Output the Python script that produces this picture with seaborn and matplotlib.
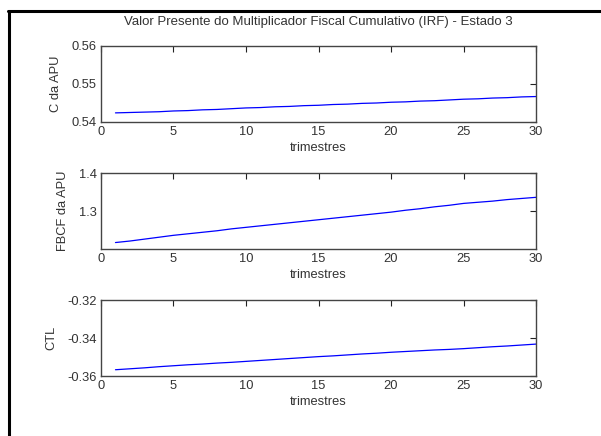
import matplotlib
matplotlib.use("Agg")
import matplotlib.pyplot as plt
import seaborn as sns
import pandas as pd
from matplotlib.lines import Line2D

# data
trimestres = list(range(1, 31))

c_apu = [0.5424, 0.5425, 0.5426, 0.5427, 0.5429, 0.5430, 0.5432, 0.5433, 0.5435, 0.5437,
         0.5438, 0.5440, 0.5441, 0.5443, 0.5444, 0.5446, 0.5447, 0.5449, 0.5450, 0.5452,
         0.5453, 0.5455, 0.5456, 0.5458, 0.5460, 0.5461, 0.5463, 0.5464, 0.5466, 0.5467]

fbcf_apu = [1.217, 1.221, 1.226, 1.231, 1.236, 1.240, 1.244, 1.248, 1.253, 1.257,
            1.261, 1.265, 1.269, 1.273, 1.277, 1.281, 1.285, 1.289, 1.293, 1.297,
            1.302, 1.306, 1.311, 1.315, 1.320, 1.323, 1.326, 1.330, 1.333, 1.336]

ctl = [-0.3567, -0.3562, -0.3557, -0.3551, -0.3546, -0.3541, -0.3537, -0.3532, -0.3528, -0.3523,
       -0.3518, -0.3513, -0.3508, -0.3503, -0.3498, -0.3494, -0.3489, -0.3484, -0.3480, -0.3475,
       -0.3471, -0.3467, -0.3463, -0.3460, -0.3456, -0.3451, -0.3446, -0.3442, -0.3437, -0.3432]

ylabels = ["C da APU", "FBCF da APU", "CTL"]
ylims = [(0.54, 0.56), (1.2, 1.4), (-0.36, -0.32)]
yticks = [[0.54, 0.55, 0.56], [1.3, 1.4], [-0.36, -0.34, -0.32]]
xticks = [0, 5, 10, 15, 20, 25, 30]
titulo = "Valor Presente do Multiplicador Fiscal Cumulativo (IRF) - Estado 3"

sns.set_style("white")
plt.rcParams['font.family'] = ['Liberation Sans', 'DejaVu Sans']
plt.rcParams['font.size'] = 9.3
plt.rcParams['text.color'] = '#333333'
plt.rcParams['axes.labelcolor'] = '#333333'
plt.rcParams['xtick.color'] = '#222222'
plt.rcParams['ytick.color'] = '#222222'
plt.rcParams['xtick.labelcolor'] = '#333333'
plt.rcParams['ytick.labelcolor'] = '#333333'

fig = plt.figure(figsize=(6.01, 4.36), dpi=100)
fig.patch.set_facecolor('white')

# axes positions (figure fractions)
bottoms = [0.7202, 0.4289, 0.1376]
series = [c_apu, fbcf_apu, ctl]

for i in range(3):
    ax = fig.add_axes([0.168, bottoms[i], 0.724, 0.1743])
    df = pd.DataFrame({"trimestres": trimestres, "valor": series[i]})
    sns.lineplot(data=df, x="trimestres", y="valor", ax=ax, color='#0000ff', linewidth=0.9)
    ax.set_xlim(0, 30)
    ax.set_ylim(*ylims[i])
    ax.set_xticks(xticks)
    ax.set_yticks(yticks[i])
    ax.set_yticklabels([('%g' % v) for v in yticks[i]])
    ax.set_xlabel("trimestres", labelpad=3)
    ax.set_ylabel(ylabels[i], labelpad=7)
    ax.tick_params(direction='in', top=True, right=True, length=4, width=0.8, pad=3)
    for s in ax.spines.values():
        s.set_color('#444444')
        s.set_linewidth(1.0)
        s.set_visible(True)
    if i == 0:
        ax.set_title(titulo, fontsize=9.5, pad=15, color='#333333')

# cropped screenshot frame (top and left edges)
fig.add_artist(Line2D([8 / 601, 1.0], [1 - 11.5 / 436, 1 - 11.5 / 436],
                      transform=fig.transFigure, color='black', linewidth=2.2))
fig.add_artist(Line2D([8.8 / 601, 8.8 / 601], [1 - 11 / 436, 0.0],
                      transform=fig.transFigure, color='black', linewidth=2.2))

fig.savefig("out.png", dpi=100)
